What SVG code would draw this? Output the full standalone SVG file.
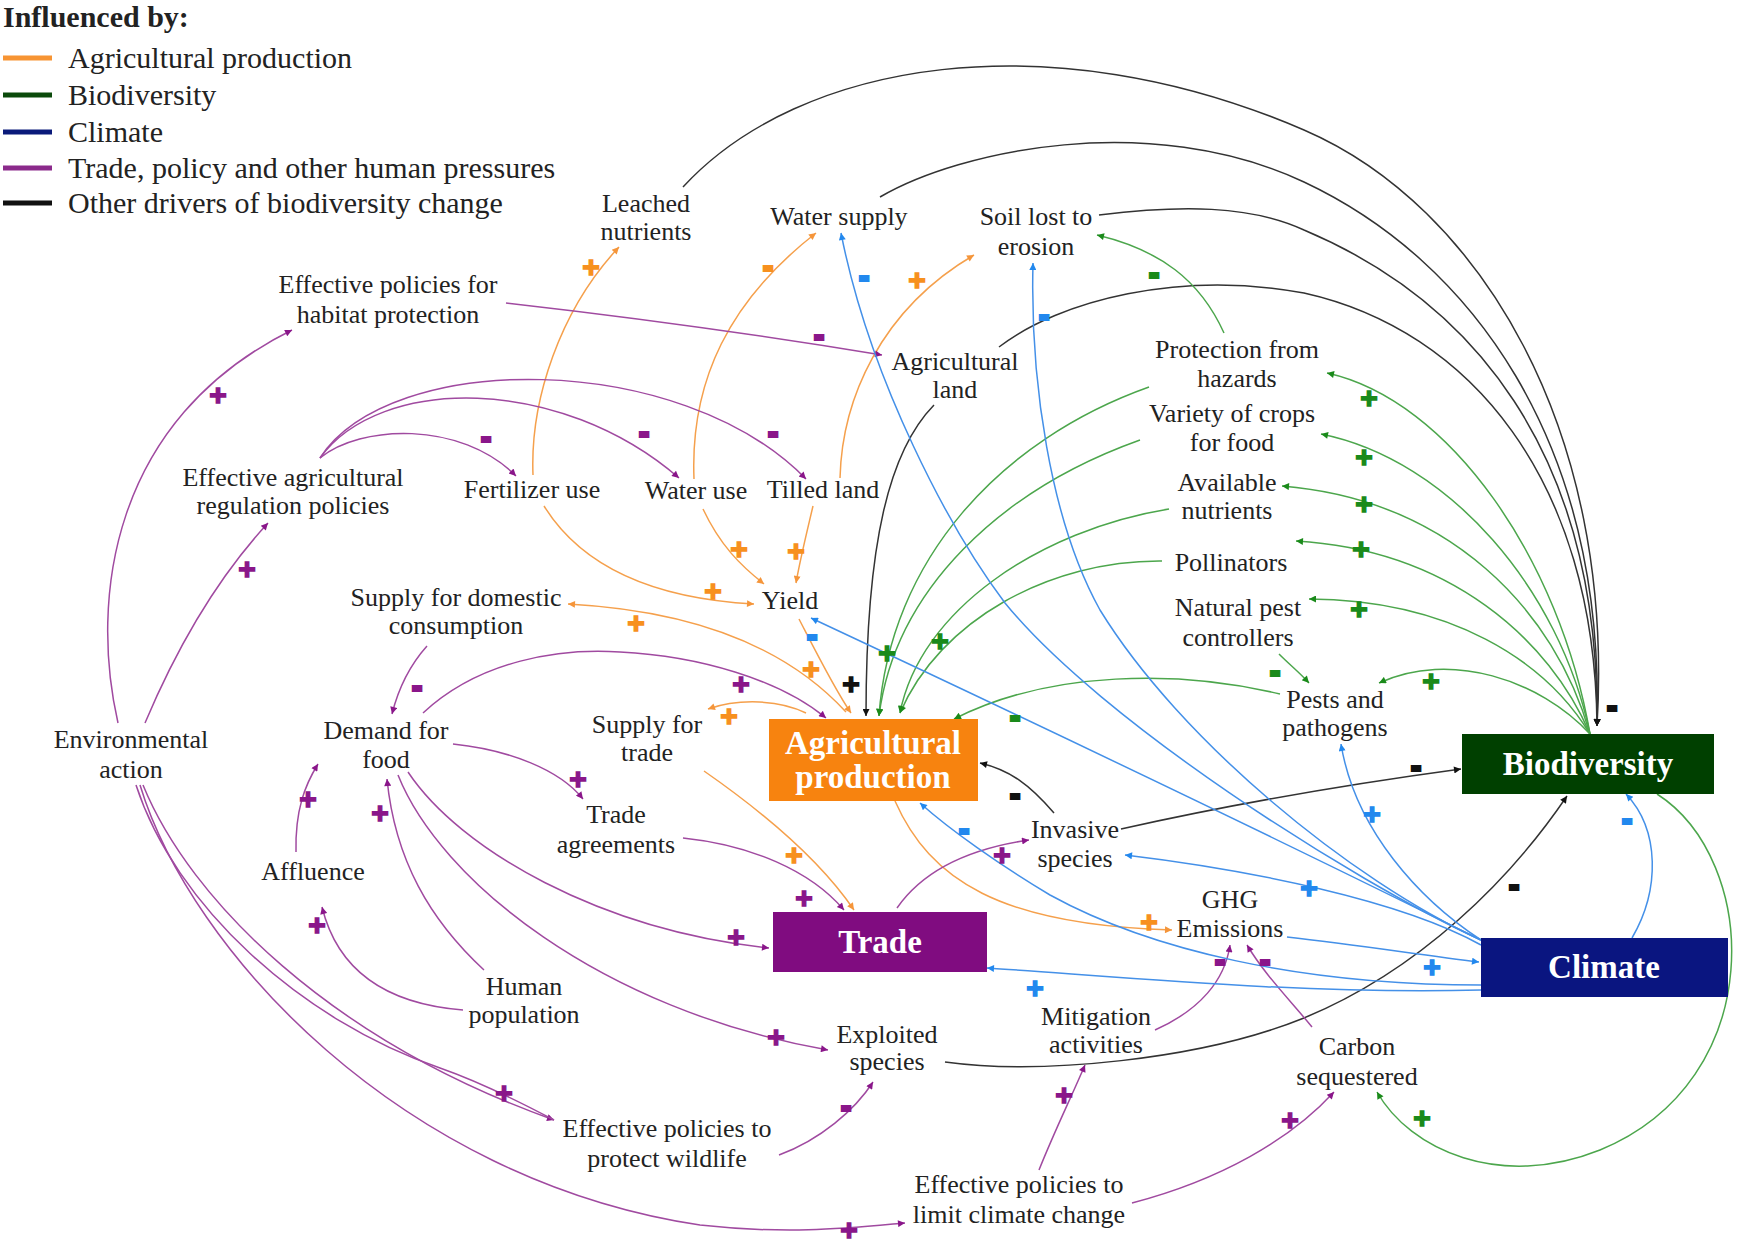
<svg xmlns="http://www.w3.org/2000/svg" width="1744" height="1247" viewBox="0 0 1744 1247">
<style>
.t{font-family:"Liberation Serif","Times New Roman",serif;font-size:26px;fill:#222;text-anchor:middle}
.lg{font-family:"Liberation Serif","Times New Roman",serif;font-size:30px;fill:#222}
.bx{font-family:"Liberation Serif","Times New Roman",serif;font-size:33px;font-weight:bold;fill:#fff;text-anchor:middle}
.c{fill:none;stroke-width:1.5}
.co{stroke:#F5A04C}.cp{stroke:#A04AA0}.cg{stroke:#4CA64C}.cb{stroke:#4490E8}.ck{stroke:#333}
.s{font-family:"Liberation Sans",Arial,sans-serif;font-weight:bold;font-size:30px;text-anchor:middle;stroke-width:1.5}
.m{font-family:"Liberation Sans",Arial,sans-serif;font-weight:bold;font-size:26px;text-anchor:middle;stroke-width:4}
.so{fill:#F7901E;stroke:#F7901E}.sp{fill:#8A168A;stroke:#8A168A}.sg{fill:#1A8A1A;stroke:#1A8A1A}.sb{fill:#2288EE;stroke:#2288EE}.sk{fill:#111;stroke:#111}
</style>
<defs>
<marker id="ao" viewBox="0 0 10 10" refX="10" refY="5" markerWidth="10" markerHeight="7" markerUnits="userSpaceOnUse" orient="auto"><path d="M0,0L10,5L0,10z" fill="#F5953A"/></marker>
<marker id="ap" viewBox="0 0 10 10" refX="10" refY="5" markerWidth="10" markerHeight="7" markerUnits="userSpaceOnUse" orient="auto"><path d="M0,0L10,5L0,10z" fill="#8A168A"/></marker>
<marker id="ag" viewBox="0 0 10 10" refX="10" refY="5" markerWidth="10" markerHeight="7" markerUnits="userSpaceOnUse" orient="auto"><path d="M0,0L10,5L0,10z" fill="#1A8A1A"/></marker>
<marker id="ab" viewBox="0 0 10 10" refX="10" refY="5" markerWidth="10" markerHeight="7" markerUnits="userSpaceOnUse" orient="auto"><path d="M0,0L10,5L0,10z" fill="#2288EE"/></marker>
<marker id="ak" viewBox="0 0 10 10" refX="10" refY="5" markerWidth="10" markerHeight="7" markerUnits="userSpaceOnUse" orient="auto"><path d="M0,0L10,5L0,10z" fill="#111"/></marker>
</defs>
<rect width="1744" height="1247" fill="#fff"/>

<g id="legend">
<text class="lg" x="3" y="27" font-weight="bold">Influenced by:</text>
<line x1="3" y1="58" x2="52" y2="58" stroke="#F79433" stroke-width="5"/>
<text class="lg" x="68" y="68">Agricultural production</text>
<line x1="3" y1="95" x2="52" y2="95" stroke="#0B4A0B" stroke-width="5"/>
<text class="lg" x="68" y="105">Biodiversity</text>
<line x1="3" y1="132" x2="52" y2="132" stroke="#0A1A7A" stroke-width="5"/>
<text class="lg" x="68" y="142">Climate</text>
<line x1="3" y1="168" x2="52" y2="168" stroke="#8B2A8B" stroke-width="5"/>
<text class="lg" x="68" y="178">Trade, policy and other human pressures</text>
<line x1="3" y1="203" x2="52" y2="203" stroke="#111" stroke-width="5"/>
<text class="lg" x="68" y="213">Other drivers of biodiversity change</text>
</g>

<g id="connectors">
<!-- black -->
<path class="c ck" d="M683,187 C800,60 1050,20 1304,130 C1480,206 1615,430 1597,726" marker-end="url(#ak)"/>
<path class="c ck" d="M880,197 C960,150 1150,110 1304,182 C1470,260 1605,440 1597,726" marker-end="url(#ak)"/>
<path class="c ck" d="M1099,215 C1180,205 1250,205 1304,230 C1470,300 1600,450 1597,726" marker-end="url(#ak)"/>
<path class="c ck" d="M999,347 C1060,300 1180,270 1304,293 C1470,330 1595,480 1597,726" marker-end="url(#ak)"/>
<path class="c ck" d="M934,405 C890,450 866,540 866,716" marker-end="url(#ak)"/>
<path class="c ck" d="M1054,813 C1030,785 1010,770 980,763" marker-end="url(#ak)"/>
<path class="c ck" d="M1121,829 C1250,800 1380,780 1461,769" marker-end="url(#ak)"/>
<path class="c ck" d="M945,1062 C1040,1075 1200,1060 1304,1018 C1420,970 1510,880 1567,796" marker-end="url(#ak)"/>
<!-- orange -->
<path class="c co" d="M533,475 C530,400 560,310 619,247" marker-end="url(#ao)"/>
<path class="c co" d="M694,479 C690,380 730,300 816,233" marker-end="url(#ao)"/>
<path class="c co" d="M840,478 C842,400 880,310 974,255" marker-end="url(#ao)"/>
<path class="c co" d="M813,506 C805,540 800,560 796,583" marker-end="url(#ao)"/>
<path class="c co" d="M703,509 C720,545 740,565 764,584" marker-end="url(#ao)"/>
<path class="c co" d="M544,506 C590,580 680,600 754,604" marker-end="url(#ao)"/>
<path class="c co" d="M846,712 C780,640 680,610 568,604" marker-end="url(#ao)"/>
<path class="c co" d="M799,619 C815,650 835,690 851,713" marker-end="url(#ao)"/>
<path class="c co" d="M806,713 C780,700 740,698 708,709" marker-end="url(#ao)"/>
<path class="c co" d="M704,771 C760,810 820,860 854,910" marker-end="url(#ao)"/>
<path class="c co" d="M895,801 C930,880 1000,925 1172,930" marker-end="url(#ao)"/>
<!-- purple -->
<path class="c cp" d="M118,723 C90,600 110,420 292,330" marker-end="url(#ap)"/>
<path class="c cp" d="M145,723 C180,640 220,575 268,523" marker-end="url(#ap)"/>
<path class="c cp" d="M506,303 Q700,325 882,355" marker-end="url(#ap)"/>
<path class="c cp" d="M320,458 C360,425 460,420 516,476" marker-end="url(#ap)"/>
<path class="c cp" d="M320,458 C380,375 560,375 679,478" marker-end="url(#ap)"/>
<path class="c cp" d="M320,458 C390,350 680,350 806,479" marker-end="url(#ap)"/>
<path class="c cp" d="M427,646 C410,665 398,690 392,714" marker-end="url(#ap)"/>
<path class="c cp" d="M423,713 C480,660 560,648 620,652 C700,656 780,680 826,718" marker-end="url(#ap)"/>
<path class="c cp" d="M453,744 C510,750 560,770 583,799" marker-end="url(#ap)"/>
<path class="c cp" d="M683,838 C750,845 810,870 844,910" marker-end="url(#ap)"/>
<path class="c cp" d="M408,772 C460,850 600,930 769,948" marker-end="url(#ap)"/>
<path class="c cp" d="M398,775 C440,880 600,1010 828,1050" marker-end="url(#ap)"/>
<path class="c cp" d="M296,852 C295,810 305,785 318,764" marker-end="url(#ap)"/>
<path class="c cp" d="M484,970 C430,920 395,860 387,779" marker-end="url(#ap)"/>
<path class="c cp" d="M463,1010 C400,1005 340,980 322,907" marker-end="url(#ap)"/>
<path class="c cp" d="M143,785 C190,900 330,1040 554,1120" marker-end="url(#ap)"/>
<path class="c cp" d="M136,785 C175,905 300,1020 440,1068 C480,1082 520,1102 554,1120"/>
<path class="c cp" d="M140,785 C190,950 400,1180 700,1225 C790,1235 850,1228 905,1223" marker-end="url(#ap)"/>
<path class="c cp" d="M779,1155 C820,1140 855,1110 873,1082" marker-end="url(#ap)"/>
<path class="c cp" d="M1039,1170 C1055,1130 1070,1100 1085,1065" marker-end="url(#ap)"/>
<path class="c cp" d="M1132,1203 C1220,1180 1290,1140 1334,1092" marker-end="url(#ap)"/>
<path class="c cp" d="M1155,1030 C1200,1010 1225,980 1230,945" marker-end="url(#ap)"/>
<path class="c cp" d="M1312,1027 C1290,1000 1265,975 1247,945" marker-end="url(#ap)"/>
<path class="c cp" d="M897,908 C920,875 960,850 1029,840" marker-end="url(#ap)"/>
<!-- green -->
<path class="c cg" d="M1590,734 C1560,560 1450,400 1327,373" marker-end="url(#ag)"/>
<path class="c cg" d="M1590,734 C1560,590 1450,460 1321,434" marker-end="url(#ag)"/>
<path class="c cg" d="M1590,734 C1555,610 1450,500 1282,486" marker-end="url(#ag)"/>
<path class="c cg" d="M1590,734 C1550,640 1450,550 1296,541" marker-end="url(#ag)"/>
<path class="c cg" d="M1590,734 C1545,660 1450,600 1309,599" marker-end="url(#ag)"/>
<path class="c cg" d="M1590,734 C1540,680 1450,650 1379,683" marker-end="url(#ag)"/>
<path class="c cg" d="M1279,654 C1290,665 1300,673 1309,683" marker-end="url(#ag)"/>
<path class="c cg" d="M1280,694 C1180,670 1050,670 954,719" marker-end="url(#ag)"/>
<path class="c cg" d="M1224,333 C1200,280 1160,250 1097,235" marker-end="url(#ag)"/>
<path class="c cg" d="M1149,387 C1000,440 890,560 879,716" marker-end="url(#ag)"/>
<path class="c cg" d="M1140,440 C1000,490 895,590 879,716" marker-end="url(#ag)"/>
<path class="c cg" d="M1169,509 C1040,530 920,610 900,713" marker-end="url(#ag)"/>
<path class="c cg" d="M1162,561 C1050,560 940,620 900,713" marker-end="url(#ag)"/>
<path class="c cg" d="M1657,794 C1760,860 1770,1080 1600,1150 C1500,1190 1410,1150 1377,1092" marker-end="url(#ag)"/>
<!-- blue -->
<path class="c cb" d="M1481,940 C1350,880 1100,720 1005,603 C950,530 870,380 841,233" marker-end="url(#ab)"/>
<path class="c cb" d="M1481,940 C1350,880 1180,740 1100,610 C1050,520 1030,380 1033,263" marker-end="url(#ab)"/>
<path class="c cb" d="M1481,940 C1300,850 1050,730 811,618" marker-end="url(#ab)"/>
<path class="c cb" d="M1481,985 C1300,985 1150,950 1050,895 C1000,865 950,830 920,803" marker-end="url(#ab)"/>
<path class="c cb" d="M1481,945 C1400,900 1250,870 1125,855" marker-end="url(#ab)"/>
<path class="c cb" d="M1481,940 C1420,900 1355,830 1341,744" marker-end="url(#ab)"/>
<path class="c cb" d="M1632,938 C1660,890 1660,830 1626,794" marker-end="url(#ab)"/>
<path class="c cb" d="M1287,937 C1360,945 1420,955 1479,962" marker-end="url(#ab)"/>
<path class="c cb" d="M1481,990 C1300,995 1100,975 987,968" marker-end="url(#ab)"/>
</g>

<g id="signs">
<text class="m sk" x="1612" y="715">-</text>
<text class="s sk" x="851" y="694">+</text>
<text class="m sk" x="1015" y="803">-</text>
<text class="m sk" x="1416" y="775">-</text>
<text class="m sk" x="1514" y="894">-</text>
<text class="s so" x="591" y="277">+</text>
<text class="m so" x="768" y="275">-</text>
<text class="s so" x="917" y="290">+</text>
<text class="s so" x="796" y="561">+</text>
<text class="s so" x="739" y="559">+</text>
<text class="s so" x="713" y="601">+</text>
<text class="s so" x="636" y="633">+</text>
<text class="s so" x="811" y="679">+</text>
<text class="s so" x="729" y="726">+</text>
<text class="s so" x="794" y="865">+</text>
<text class="s so" x="1149" y="932">+</text>
<text class="s sp" x="218" y="405">+</text>
<text class="s sp" x="247" y="579">+</text>
<text class="m sp" x="819" y="344">-</text>
<text class="m sp" x="486" y="446">-</text>
<text class="m sp" x="644" y="441">-</text>
<text class="m sp" x="773" y="441">-</text>
<text class="m sp" x="417" y="695">-</text>
<text class="s sp" x="741" y="694">+</text>
<text class="s sp" x="578" y="789">+</text>
<text class="s sp" x="804" y="908">+</text>
<text class="s sp" x="736" y="947">+</text>
<text class="s sp" x="776" y="1047">+</text>
<text class="s sp" x="308" y="809">+</text>
<text class="s sp" x="380" y="823">+</text>
<text class="s sp" x="317" y="935">+</text>
<text class="s sp" x="504" y="1103">+</text>
<text class="s sp" x="849" y="1240">+</text>
<text class="m sp" x="846" y="1115">-</text>
<text class="s sp" x="1064" y="1105">+</text>
<text class="s sp" x="1290" y="1130">+</text>
<text class="m sp" x="1220" y="969">-</text>
<text class="m sp" x="1265" y="969">-</text>
<text class="s sp" x="1002" y="865">+</text>
<text class="s sg" x="1369" y="408">+</text>
<text class="s sg" x="1364" y="467">+</text>
<text class="s sg" x="1364" y="514">+</text>
<text class="s sg" x="1361" y="559">+</text>
<text class="s sg" x="1359" y="619">+</text>
<text class="s sg" x="1431" y="691">+</text>
<text class="m sg" x="1275" y="680">-</text>
<text class="m sg" x="1015" y="725">-</text>
<text class="m sg" x="1154" y="282">-</text>
<text class="s sg" x="887" y="663">+</text>
<text class="s sg" x="940" y="651">+</text>
<text class="s sg" x="1422" y="1128">+</text>
<text class="m sb" x="864" y="285">-</text>
<text class="m sb" x="1044" y="324">-</text>
<text class="m sb" x="812" y="644">-</text>
<text class="m sb" x="964" y="838">-</text>
<text class="s sb" x="1309" y="898">+</text>
<text class="s sb" x="1372" y="824">+</text>
<text class="m sb" x="1627" y="828">-</text>
<text class="s sb" x="1432" y="977">+</text>
<text class="s sb" x="1035" y="998">+</text>
</g>

<g id="agricultural-production"><rect x="769" y="719" width="209" height="82" fill="#F7830F"/><text class="bx" x="873" y="754">Agricultural</text><text class="bx" x="873" y="788">production</text></g>
<g id="trade"><rect x="773" y="912" width="214" height="60" fill="#800C80"/><text class="bx" x="880" y="953">Trade</text></g>
<g id="biodiversity"><rect x="1462" y="734" width="252" height="60" fill="#004000"/><text class="bx" x="1588" y="775">Biodiversity</text></g>
<g id="climate"><rect x="1481" y="938" width="247" height="59" fill="#0A1580"/><text class="bx" x="1604" y="978">Climate</text></g>

<g id="leached-nutrients"><text class="t" x="646" y="212">Leached</text><text class="t" x="646" y="240">nutrients</text></g>
<g id="water-supply"><text class="t" x="839" y="225">Water supply</text></g>
<g id="soil-lost"><text class="t" x="1036" y="225">Soil lost to</text><text class="t" x="1036" y="255">erosion</text></g>
<g id="habitat-policies"><text class="t" x="388" y="293">Effective policies for</text><text class="t" x="388" y="323">habitat protection</text></g>
<g id="agricultural-land"><text class="t" x="955" y="370">Agricultural</text><text class="t" x="955" y="398">land</text></g>
<g id="protection-hazards"><text class="t" x="1237" y="358">Protection from</text><text class="t" x="1237" y="387">hazards</text></g>
<g id="variety-crops"><text class="t" x="1232" y="422">Variety of crops</text><text class="t" x="1232" y="451">for food</text></g>
<g id="available-nutrients"><text class="t" x="1227" y="491">Available</text><text class="t" x="1227" y="519">nutrients</text></g>
<g id="pollinators"><text class="t" x="1231" y="571">Pollinators</text></g>
<g id="natural-pest"><text class="t" x="1238" y="616">Natural pest</text><text class="t" x="1238" y="646">controllers</text></g>
<g id="pests-pathogens"><text class="t" x="1335" y="708">Pests and</text><text class="t" x="1335" y="736">pathogens</text></g>
<g id="ag-regulation"><text class="t" x="293" y="486">Effective agricultural</text><text class="t" x="293" y="514">regulation policies</text></g>
<g id="fertilizer-use"><text class="t" x="532" y="498">Fertilizer use</text></g>
<g id="water-use"><text class="t" x="696" y="499">Water use</text></g>
<g id="tilled-land"><text class="t" x="823" y="498">Tilled land</text></g>
<g id="yield"><text class="t" x="790" y="609">Yield</text></g>
<g id="supply-domestic"><text class="t" x="456" y="606">Supply for domestic</text><text class="t" x="456" y="634">consumption</text></g>
<g id="demand-food"><text class="t" x="386" y="739">Demand for</text><text class="t" x="386" y="768">food</text></g>
<g id="supply-trade"><text class="t" x="647" y="733">Supply for</text><text class="t" x="647" y="761">trade</text></g>
<g id="trade-agreements"><text class="t" x="616" y="823">Trade</text><text class="t" x="616" y="853">agreements</text></g>
<g id="environmental-action"><text class="t" x="131" y="748">Environmental</text><text class="t" x="131" y="778">action</text></g>
<g id="affluence"><text class="t" x="313" y="880">Affluence</text></g>
<g id="human-population"><text class="t" x="524" y="995">Human</text><text class="t" x="524" y="1023">population</text></g>
<g id="invasive-species"><text class="t" x="1075" y="838">Invasive</text><text class="t" x="1075" y="867">species</text></g>
<g id="ghg-emissions"><text class="t" x="1230" y="908">GHG</text><text class="t" x="1230" y="937">Emissions</text></g>
<g id="exploited-species"><text class="t" x="887" y="1043">Exploited</text><text class="t" x="887" y="1070">species</text></g>
<g id="mitigation"><text class="t" x="1096" y="1025">Mitigation</text><text class="t" x="1096" y="1053">activities</text></g>
<g id="carbon-sequestered"><text class="t" x="1357" y="1055">Carbon</text><text class="t" x="1357" y="1085">sequestered</text></g>
<g id="wildlife-policies"><text class="t" x="667" y="1137">Effective policies to</text><text class="t" x="667" y="1167">protect wildlife</text></g>
<g id="climate-policies"><text class="t" x="1019" y="1193">Effective policies to</text><text class="t" x="1019" y="1223">limit climate change</text></g>
</svg>
